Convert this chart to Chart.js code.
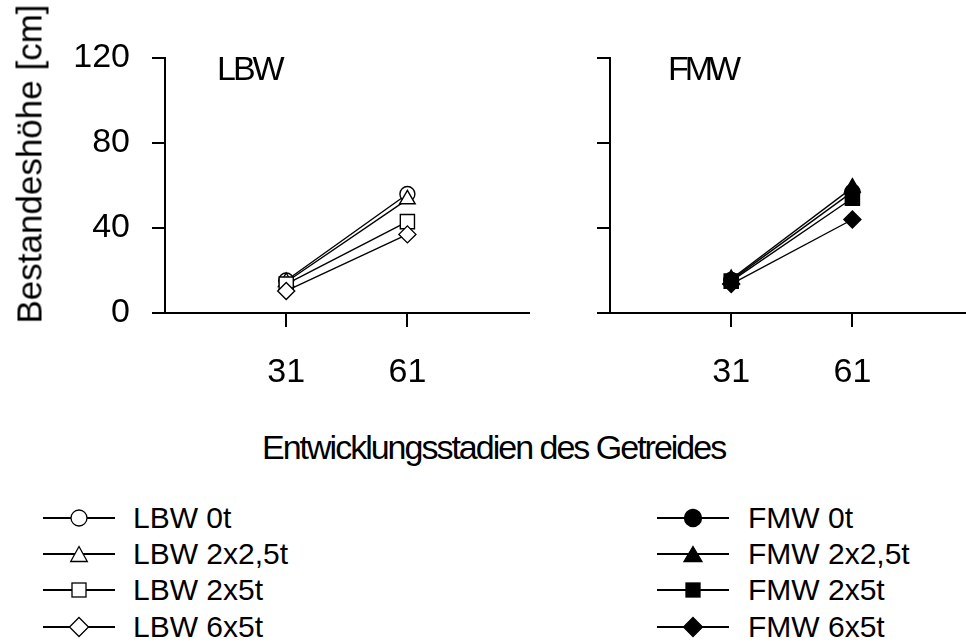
<!DOCTYPE html>
<html>
<head>
<meta charset="utf-8">
<script src="https://cdn.jsdelivr.net/npm/chart.js@4"></script>
<style>
  html, body { margin: 0; padding: 0; background: #fff; }
  body { width: 966px; height: 642px; overflow: hidden; position: relative;
         font-family: Arial, "Liberation Sans", sans-serif; color: #000; }
  .abs { position: absolute; white-space: nowrap; line-height: 1; }
  canvas { position: absolute; top: 0; }
</style>
</head>
<body>
<canvas id="c1" width="540" height="420" style="left:0px"></canvas>
<canvas id="c2" width="540" height="420" style="left:445px"></canvas>

<div class="abs" id="yTitle" style="font-size:35px;left:29px;top:164px;transform:translate(-50%,-50%) rotate(-90deg);transform-origin:center;"></div>
<div class="abs" id="t1" style="font-size:34px;letter-spacing:-3px;left:217px;top:51px;"></div>
<div class="abs" id="t2" style="font-size:34px;letter-spacing:-4px;left:668px;top:51px;"></div>
<div class="abs" id="xTitle" style="font-size:34px;letter-spacing:-2px;left:262px;top:430px;"></div>
<div id="legend"></div>

<script>
// ---- data ----
const categories = ['31', '61'];
const yTicks = [0, 40, 80, 120];
const treatments = ['0t', '2x2,5t', '2x5t', '6x5t'];
const markers = ['circle', 'triangle', 'rect', 'rectRot'];

const lbw0t    = [15.3, 56.0];
const lbw2x25t = [14.6, 53.5];
const lbw2x5t  = [13.6, 43.0];
const lbw6x5t  = [10.4, 37.0];

const fmw0t    = [15.5, 57.0];
const fmw2x25t = [16.0, 59.0];
const fmw2x5t  = [15.0, 54.0];
const fmw6x5t  = [13.6, 44.0];

const yTitleText = 'Bestandeshöhe [cm]';
const xTitleText = 'Entwicklungsstadien des Getreides';
const panelTitles = ['LBW', 'FMW'];

// ---- text ----
document.getElementById('yTitle').textContent = yTitleText;
document.getElementById('xTitle').textContent = xTitleText;
document.getElementById('t1').textContent = panelTitles[0];
document.getElementById('t2').textContent = panelTitles[1];

const FONT = 'Arial, "Liberation Sans", sans-serif';
const radii = { circle: 7.5, triangle: 9, rect: 10, rectRot: 8.5 };

function makeDatasets(seriesList, filled) {
  return seriesList.map((vals, i) => ({
    label: treatments[i],
    data: vals.map((v, k) => ({ x: k + 1, y: v })),
    borderColor: '#000',
    borderWidth: 1.4,
    pointStyle: markers[i],
    pointRadius: radii[markers[i]],
    pointBorderWidth: 1.4,
    pointBorderColor: '#000',
    pointBackgroundColor: filled ? '#000' : '#fff',
    fill: false,
    tension: 0,
    order: seriesList.length - 1 - i
  }));
}

function makeChart(id, seriesList, filled, showYLabels) {
  return new Chart(document.getElementById(id), {
    type: 'line',
    data: { datasets: makeDatasets(seriesList, filled) },
    options: {
      responsive: false,
      devicePixelRatio: 1,
      animation: false,
      events: [],
      layout: { padding: { top: 58, right: 8, left: 0, bottom: 0 } },
      plugins: { legend: { display: false }, tooltip: { enabled: false } },
      scales: {
        x: {
          type: 'linear',
          min: 0, max: 3,
          afterBuildTicks: s => { s.ticks = categories.map((c, k) => ({ value: k + 1 })); },
          afterFit: s => { s.height = 107; },
          ticks: {
            callback: (v, idx) => categories[idx],
            color: '#000',
            font: { family: FONT, size: 34 },
            padding: 25,
            maxRotation: 0, autoSkip: false
          },
          grid: { drawOnChartArea: false, drawTicks: true, tickLength: 14, color: '#000', lineWidth: 2 },
          border: { display: true, color: '#000', width: 2 }
        },
        y: {
          type: 'linear',
          min: 0, max: 120,
          afterBuildTicks: s => { s.ticks = yTicks.map(v => ({ value: v })); },
          afterFit: s => { s.width = 165; },
          ticks: {
            display: showYLabels,
            color: '#000',
            font: { family: FONT, size: 34 },
            padding: 22
          },
          grid: { drawOnChartArea: false, drawTicks: true, tickLength: 13, color: '#000', lineWidth: 2 },
          border: { display: true, color: '#000', width: 2 }
        }
      }
    }
  });
}

makeChart('c1', [lbw0t, lbw2x25t, lbw2x5t, lbw6x5t], false, true);
makeChart('c2', [fmw0t, fmw2x25t, fmw2x5t, fmw6x5t], true, false);

// ---- legend (HTML + SVG samples) ----
const legendRows = [518, 554, 590, 627];
const legendGroups = [
  { prefix: 'LBW', lineX: 43, textX: 133, filled: false },
  { prefix: 'FMW', lineX: 657, textX: 748, filled: true }
];
function markerSvg(style, filled) {
  const f = filled ? '#000' : '#fff';
  const s = 'stroke="#000" stroke-width="1.3" fill="' + f + '"';
  const cx = 36, cy = 12;
  if (style === 'circle') return '<circle cx="' + cx + '" cy="' + cy + '" r="' + (filled ? 8.5 : 8) + '" ' + s + '/>';
  if (style === 'triangle') { const w = filled ? 9 : 8.3, h = 7.5;
    return '<polygon points="' + cx + ',' + (cy - h) + ' ' + (cx + w) + ',' + (cy + h) + ' ' + (cx - w) + ',' + (cy + h) + '" ' + s + '/>'; }
  if (style === 'rect') { const a = 7;
    return '<rect x="' + (cx - a) + '" y="' + (cy - a) + '" width="' + (2 * a) + '" height="' + (2 * a) + '" ' + s + '/>'; }
  const d = 9.5;
  return '<polygon points="' + cx + ',' + (cy - d) + ' ' + (cx + d) + ',' + cy + ' ' + cx + ',' + (cy + d) + ' ' + (cx - d) + ',' + cy + '" ' + s + '/>';
}
let html = '';
legendGroups.forEach(g => {
  treatments.forEach((t, i) => {
    const cy = legendRows[i];
    html += '<svg class="abs" style="left:' + g.lineX + 'px;top:' + (cy - 12) + 'px" width="72" height="24">' +
      '<line x1="0" y1="12" x2="72" y2="12" stroke="#000" stroke-width="2"/>' +
      markerSvg(markers[i], g.filled) + '</svg>';
    html += '<div class="abs" style="font-size:30px;left:' + g.textX + 'px;top:' + (cy - 14.7) + 'px">' + g.prefix + ' ' + t + '</div>';
  });
});
document.getElementById('legend').innerHTML = html;
</script>
</body>
</html>
